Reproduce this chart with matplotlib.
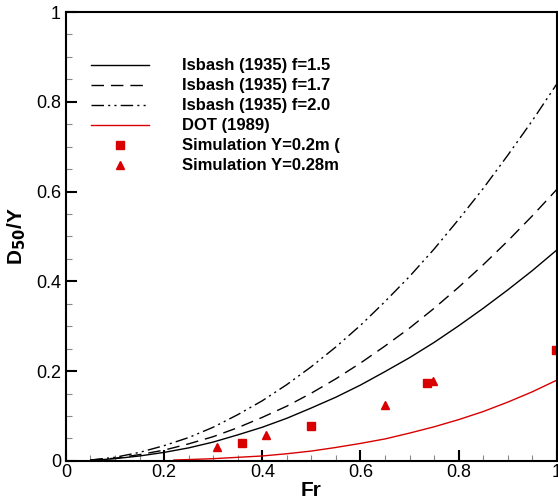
import matplotlib
matplotlib.use("Agg")
import matplotlib.pyplot as plt
from matplotlib.ticker import MultipleLocator

plt.rcParams['font.family'] = ['Liberation Sans', 'DejaVu Sans']
plt.rcParams['mathtext.default'] = 'bf'

# Data
fr_isbash = [0.05, 0.10, 0.15, 0.20, 0.25, 0.30, 0.35, 0.40, 0.45, 0.50,
             0.55, 0.60, 0.65, 0.70, 0.75, 0.80, 0.85, 0.90, 0.95, 1.00]
isbash_15 = [0.001, 0.005, 0.011, 0.019, 0.029, 0.042, 0.058, 0.075, 0.095, 0.118,
             0.142, 0.169, 0.199, 0.230, 0.264, 0.301, 0.340, 0.381, 0.424, 0.470]
isbash_17 = [0.002, 0.006, 0.014, 0.024, 0.038, 0.054, 0.074, 0.097, 0.122, 0.151,
             0.183, 0.218, 0.256, 0.296, 0.340, 0.387, 0.437, 0.490, 0.546, 0.605]
isbash_20 = [0.002, 0.008, 0.019, 0.034, 0.052, 0.075, 0.103, 0.134, 0.170, 0.210,
             0.254, 0.302, 0.355, 0.411, 0.472, 0.538, 0.607, 0.681, 0.758, 0.840]

fr_dot = [0.22, 0.25, 0.30, 0.35, 0.40, 0.45, 0.50, 0.55, 0.60,
          0.65, 0.70, 0.75, 0.80, 0.85, 0.90, 0.95, 1.00]
dot_1989 = [0.002, 0.003, 0.005, 0.008, 0.011, 0.016, 0.022, 0.030, 0.039,
            0.049, 0.062, 0.076, 0.092, 0.110, 0.131, 0.154, 0.180]

sim02_fr = [0.358, 0.50, 0.736, 0.998]
sim02_d = [0.041, 0.078, 0.174, 0.248]
sim028_fr = [0.307, 0.408, 0.65, 0.747]
sim028_d = [0.031, 0.057, 0.124, 0.179]

red = '#d80000'

fig = plt.figure(figsize=(5.58, 5.01), dpi=100)
ax = fig.add_axes([0.118, 0.080, 0.880, 0.896])

ax.plot(fr_isbash, isbash_15, color='black', lw=1.0, label='Isbash (1935) f=1.5')
ax.plot(fr_isbash, isbash_17, color='black', lw=1.0, dashes=(9, 5),
        label='Isbash (1935) f=1.7')
ax.plot(fr_isbash, isbash_20, color='black', lw=1.0, dashes=(9, 3, 1.5, 3, 1.5, 3),
        label='Isbash (1935) f=2.0')
ax.plot(fr_dot, dot_1989, color=red, lw=1.0, label='DOT (1989)')
ax.plot(sim02_fr, sim02_d, 's', color=red, ms=5.5, label='Simulation Y=0.2m (')
ax.plot(sim028_fr, sim028_d, '^', color=red, ms=5.5, label='Simulation Y=0.28m')

ax.set_xlim(0, 1)
ax.set_ylim(0, 1)
ax.xaxis.set_major_locator(MultipleLocator(0.2))
ax.yaxis.set_major_locator(MultipleLocator(0.2))
ax.xaxis.set_minor_locator(MultipleLocator(0.05))
ax.yaxis.set_minor_locator(MultipleLocator(0.05))
ax.xaxis.set_major_formatter(plt.FuncFormatter(lambda v, p: f"{v:g}"))
ax.yaxis.set_major_formatter(plt.FuncFormatter(lambda v, p: f"{v:g}"))
ax.tick_params(which='major', direction='in', length=8, width=1.5,
               labelsize=13, top=False, right=False)
ax.tick_params(axis='x', which='major', pad=2)
ax.tick_params(which='minor', direction='in', length=4, width=0.8,
               color='#888888', top=False, right=False)
for s in ax.spines.values():
    s.set_linewidth(1.5)

ax.set_xlabel('Fr', fontsize=15, fontweight='bold', labelpad=0)
ax.set_ylabel('D$_{50}$/Y', fontsize=15, fontweight='bold', labelpad=6)

leg = ax.legend(loc='upper left', bbox_to_anchor=(0.02, 0.93), frameon=False,
                fontsize=12, handlelength=3.5, handletextpad=2.0,
                labelspacing=0.3, numpoints=1)
for t in leg.get_texts():
    t.set_fontweight('bold')

fig.savefig('out.png', dpi=100)
